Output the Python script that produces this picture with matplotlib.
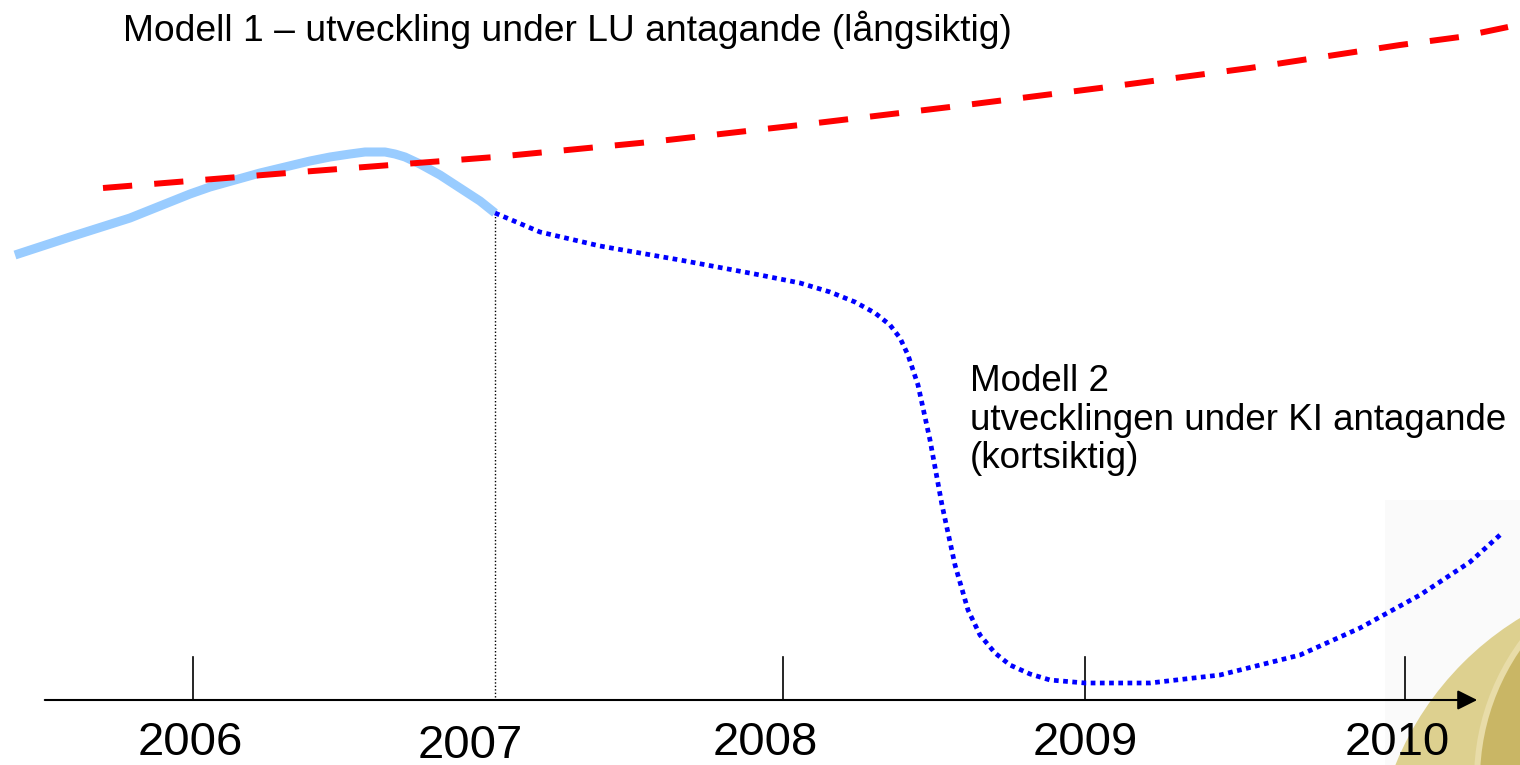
import numpy as np
import matplotlib
matplotlib.use('Agg')
import matplotlib.pyplot as plt
import matplotlib.patches as mpatches

plt.rcParams['font.family'] = ['Liberation Sans', 'DejaVu Sans']

# positions (x to the right, y downwards)
lu_x = [103, 300, 495, 650, 800, 950, 1100, 1250, 1400, 1460, 1508]
lu_y = [188, 172, 157, 142, 125, 107, 88, 68, 45, 37, 27]

hist_x = [15, 70, 130, 150, 170, 190, 210, 235, 260, 285, 310, 330, 350, 365, 375,
          385, 395, 405, 420, 440, 460, 480, 495]
hist_y = [255, 237, 218, 210, 202, 194, 187, 180, 173, 167, 161, 157, 154, 152, 152,
          152, 154, 157, 164, 175, 188, 201, 213]

ki_x = [495, 540, 600, 680, 760, 800, 830, 855, 875, 890, 900, 908, 918, 930, 942, 955,
        968, 980, 995, 1010, 1030, 1050, 1085, 1150, 1220, 1300, 1360, 1420, 1470, 1500]
ki_y = [213, 232, 246, 260, 275, 283, 292, 302, 313, 325, 338, 355, 385, 440, 505, 565,
        610, 635, 653, 665, 674, 680, 683, 683, 675, 655, 628, 595, 562, 535]

years = ['2006', '2007', '2008', '2009', '2010']
year_x = [193, 495, 783, 1085, 1405]
label_x = [190, 470, 765, 1085, 1397]
label_y = [743, 746, 743, 743, 743]

fig = plt.figure(figsize=(15.2, 7.65), dpi=100)
ax = fig.add_axes([0, 0, 1, 1])
ax.set_xlim(0, 1520)
ax.set_ylim(765, 0)
ax.axis('off')

# decoration in lower right corner
ax.add_patch(mpatches.Rectangle((1385, 500), 140, 270, color='#fafafa', lw=0, zorder=0))
ax.add_patch(mpatches.Circle((1680, 880), 307, color='#ddd08f', lw=0, zorder=1))
ax.add_patch(mpatches.Circle((1710, 780), 236, color='#e8dca8', lw=0, zorder=1))
ax.add_patch(mpatches.Circle((1710, 780), 230, color='#c9b665', lw=0, zorder=1))

# time axis
ax.annotate('', xy=(1480, 700), xytext=(42, 700),
            arrowprops=dict(arrowstyle='-|>', color='black', lw=1.5,
                            mutation_scale=30), zorder=3)
for x, yr in zip(year_x, years):
    if yr != '2007':
        ax.plot([x, x], [657, 700], color='black', lw=1.2, zorder=3)
ax.plot([495, 495], [213, 700], color='black', lw=1, ls=(0, (1, 1.5)), zorder=3)
for x, y, yr in zip(label_x, label_y, years):
    ax.text(x, y, yr, fontsize=34, ha='center', va='center', zorder=4)

ax.plot(hist_x, hist_y, color='#99ccff', lw=6.5, solid_capstyle='butt', zorder=4)
ax.plot(lu_x, lu_y, color='#ff0000', lw=4.3, dashes=(4.9, 3.7), zorder=5)
ax.plot(ki_x, ki_y, color='#0000ff', lw=3.4, dashes=(1, 0.95), zorder=5)

ax.text(123, 30, 'Modell 1 \u2013 utveckling under LU antagande (långsiktig)',
        fontsize=26.8, ha='left', va='center', zorder=6)
ax.text(970, 420, 'Modell 2\nutvecklingen under KI antagande\n(kortsiktig)',
        fontsize=26.5, ha='left', va='center', linespacing=1.12, zorder=6)

fig.savefig('out.png', dpi=100)
